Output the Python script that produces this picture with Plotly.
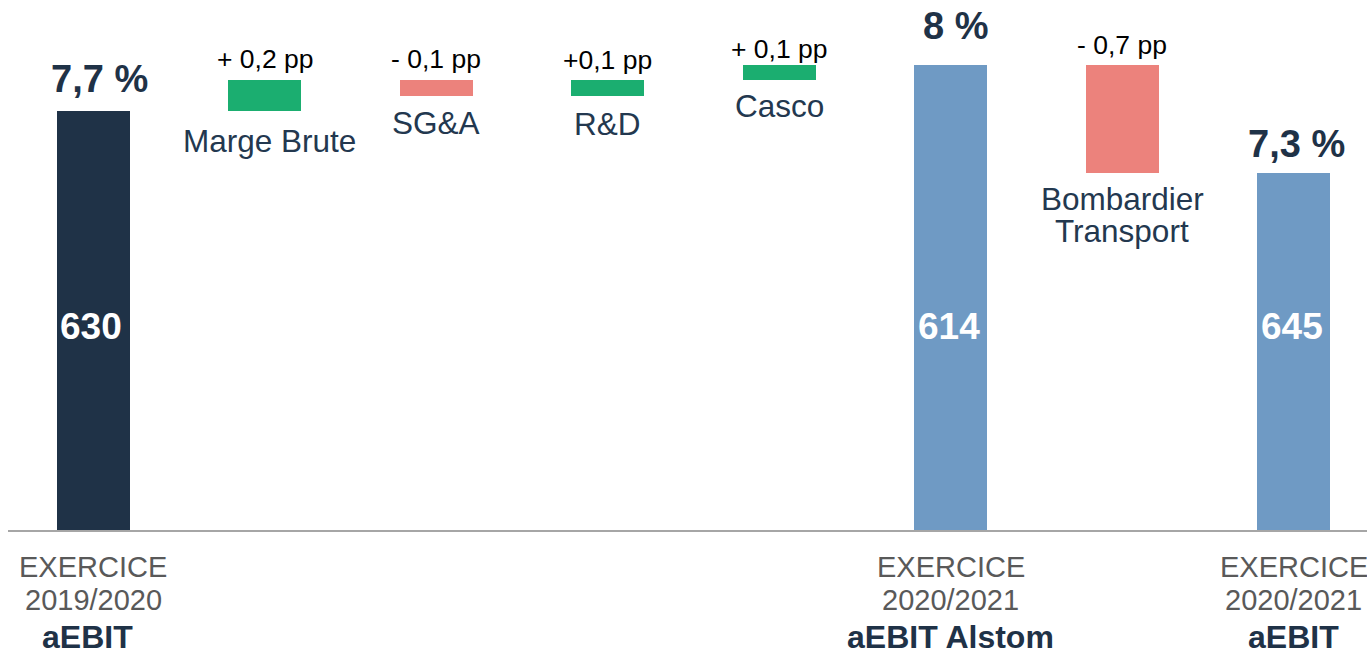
import plotly.graph_objects as go

# ---------------- data ----------------
categories = ["aEBIT 2019/2020", "Marge Brute", "SG&A", "R&D", "Casco",
              "aEBIT Alstom 2020/2021", "Bombardier Transport", "aEBIT 2020/2021"]
kinds = ["total", "delta", "delta", "delta", "delta", "total", "delta", "total"]
values = [7.7, 0.2, -0.1, 0.1, 0.1, 8.0, -0.7, 7.3]
amounts = [630, None, None, None, None, 614, None, 645]
top_labels = ["7,7 %", "+ 0,2 pp", "- 0,1 pp", "+0,1 pp", "+ 0,1 pp", "8 %", "- 0,7 pp", "7,3 %"]
driver_labels = [[], ["Marge Brute"], ["SG&A"], ["R&D"], ["Casco"], [],
                 ["Bombardier", "Transport"], []]
axis_line1 = ["EXERCICE", "", "", "", "", "EXERCICE", "", "EXERCICE"]
axis_line2 = ["2019/2020", "", "", "", "", "2020/2021", "", "2020/2021"]
axis_line3 = ["aEBIT", "", "", "", "", "aEBIT Alstom", "", "aEBIT"]

# ---------------- style ----------------
NAVY = "#1f3247"
LIGHT = "#6f9ac4"
GREEN = "#1bae70"
RED = "#ec827c"
GRAY = "#595959"
FONT = "Arial, Liberation Sans, sans-serif"
total_colors = [NAVY, None, None, None, None, LIGHT, None, LIGHT]
top_shift = [32, 21, 21, 20, 16, 39, 20, 29]
top_xshift = [6, 1, 0, 0, 0, 5, 0, 3]
below_gap = [0, 30, 27, 28, 26, 0, 26, 0]
line3_xshift = [-6, 0, 0, 0, 0, 0, 0, 0]

# ---------------- compute bars ----------------
ys, bases, colors, tops, bottoms = [], [], [], [], []
running = 0.0
for i, (k, v) in enumerate(zip(kinds, values)):
    if k == "total":
        ys.append(v)
        bases.append(0)
        colors.append(total_colors[i])
        running = v
        tops.append(v)
        bottoms.append(0)
    else:
        ys.append(v)
        bases.append(running)
        colors.append(GREEN if v > 0 else RED)
        tops.append(max(running, running + v))
        bottoms.append(min(running, running + v))
        running += v

fig = go.Figure()
fig.add_trace(go.Bar(
    x=categories, y=ys, base=bases,
    marker=dict(color=colors, line=dict(width=0)),
    width=0.426, hoverinfo="skip", showlegend=False,
))

ann = []
for i, c in enumerate(categories):
    is_total = kinds[i] == "total"
    ann.append(dict(
        x=c, y=tops[i], xref="x", yref="y", text=top_labels[i],
        showarrow=False, yanchor="middle", xanchor="center",
        yshift=top_shift[i], xshift=top_xshift[i],
        font=dict(family=FONT, size=38 if is_total else 26.5,
                  color=NAVY if is_total else "#000000",
                  weight="bold" if is_total else "normal"),
    ))
    if amounts[i] is not None:
        ann.append(dict(
            x=c, y=(530 - 326) / 530, xref="x", yref="paper", text=str(amounts[i]),
            showarrow=False, yanchor="middle", xanchor="center", xshift=-2,
            font=dict(family=FONT, size=37, color="#ffffff", weight="bold"),
        ))
    for j, line in enumerate(driver_labels[i]):
        ann.append(dict(
            x=c, y=bottoms[i], xref="x", yref="y", text=line,
            showarrow=False, yanchor="middle", xanchor="center",
            yshift=-(below_gap[i] + 32 * j), xshift=5 if i == 1 else 0,
            font=dict(family=FONT, size=31.5, color="#23384f"),
        ))
    if axis_line1[i]:
        ann.append(dict(x=c, y=0, xref="x", yref="paper", text=axis_line1[i],
                        showarrow=False, yanchor="middle", yshift=-37,
                        font=dict(family=FONT, size=29, color=GRAY)))
        ann.append(dict(x=c, y=0, xref="x", yref="paper", text=axis_line2[i],
                        showarrow=False, yanchor="middle", yshift=-70,
                        font=dict(family=FONT, size=29, color=GRAY)))
        ann.append(dict(x=c, y=0, xref="x", yref="paper", text=axis_line3[i],
                        showarrow=False, yanchor="middle", yshift=-107,
                        xshift=line3_xshift[i],
                        font=dict(family=FONT, size=32, color=NAVY, weight="bold")))

fig.update_layout(
    width=1367, height=655,
    margin=dict(l=8, r=0, t=0, b=125),
    paper_bgcolor="white", plot_bgcolor="white",
    annotations=ann,
    bargap=0,
    xaxis=dict(type="category", categoryorder="array", categoryarray=categories,
               range=[-0.4987, 7.4287], showticklabels=False, ticks="",
               showline=True, linecolor="#a6a6a6", linewidth=2,
               showgrid=False, zeroline=False, fixedrange=True),
    yaxis=dict(range=[5.0, 8.419], visible=False, showgrid=False,
               zeroline=False, fixedrange=True),
)

fig.write_html(
    "out.html",
    config={"displayModeBar": False},
    post_script="document.body.style.margin='0';document.body.style.overflow='hidden';",
)
